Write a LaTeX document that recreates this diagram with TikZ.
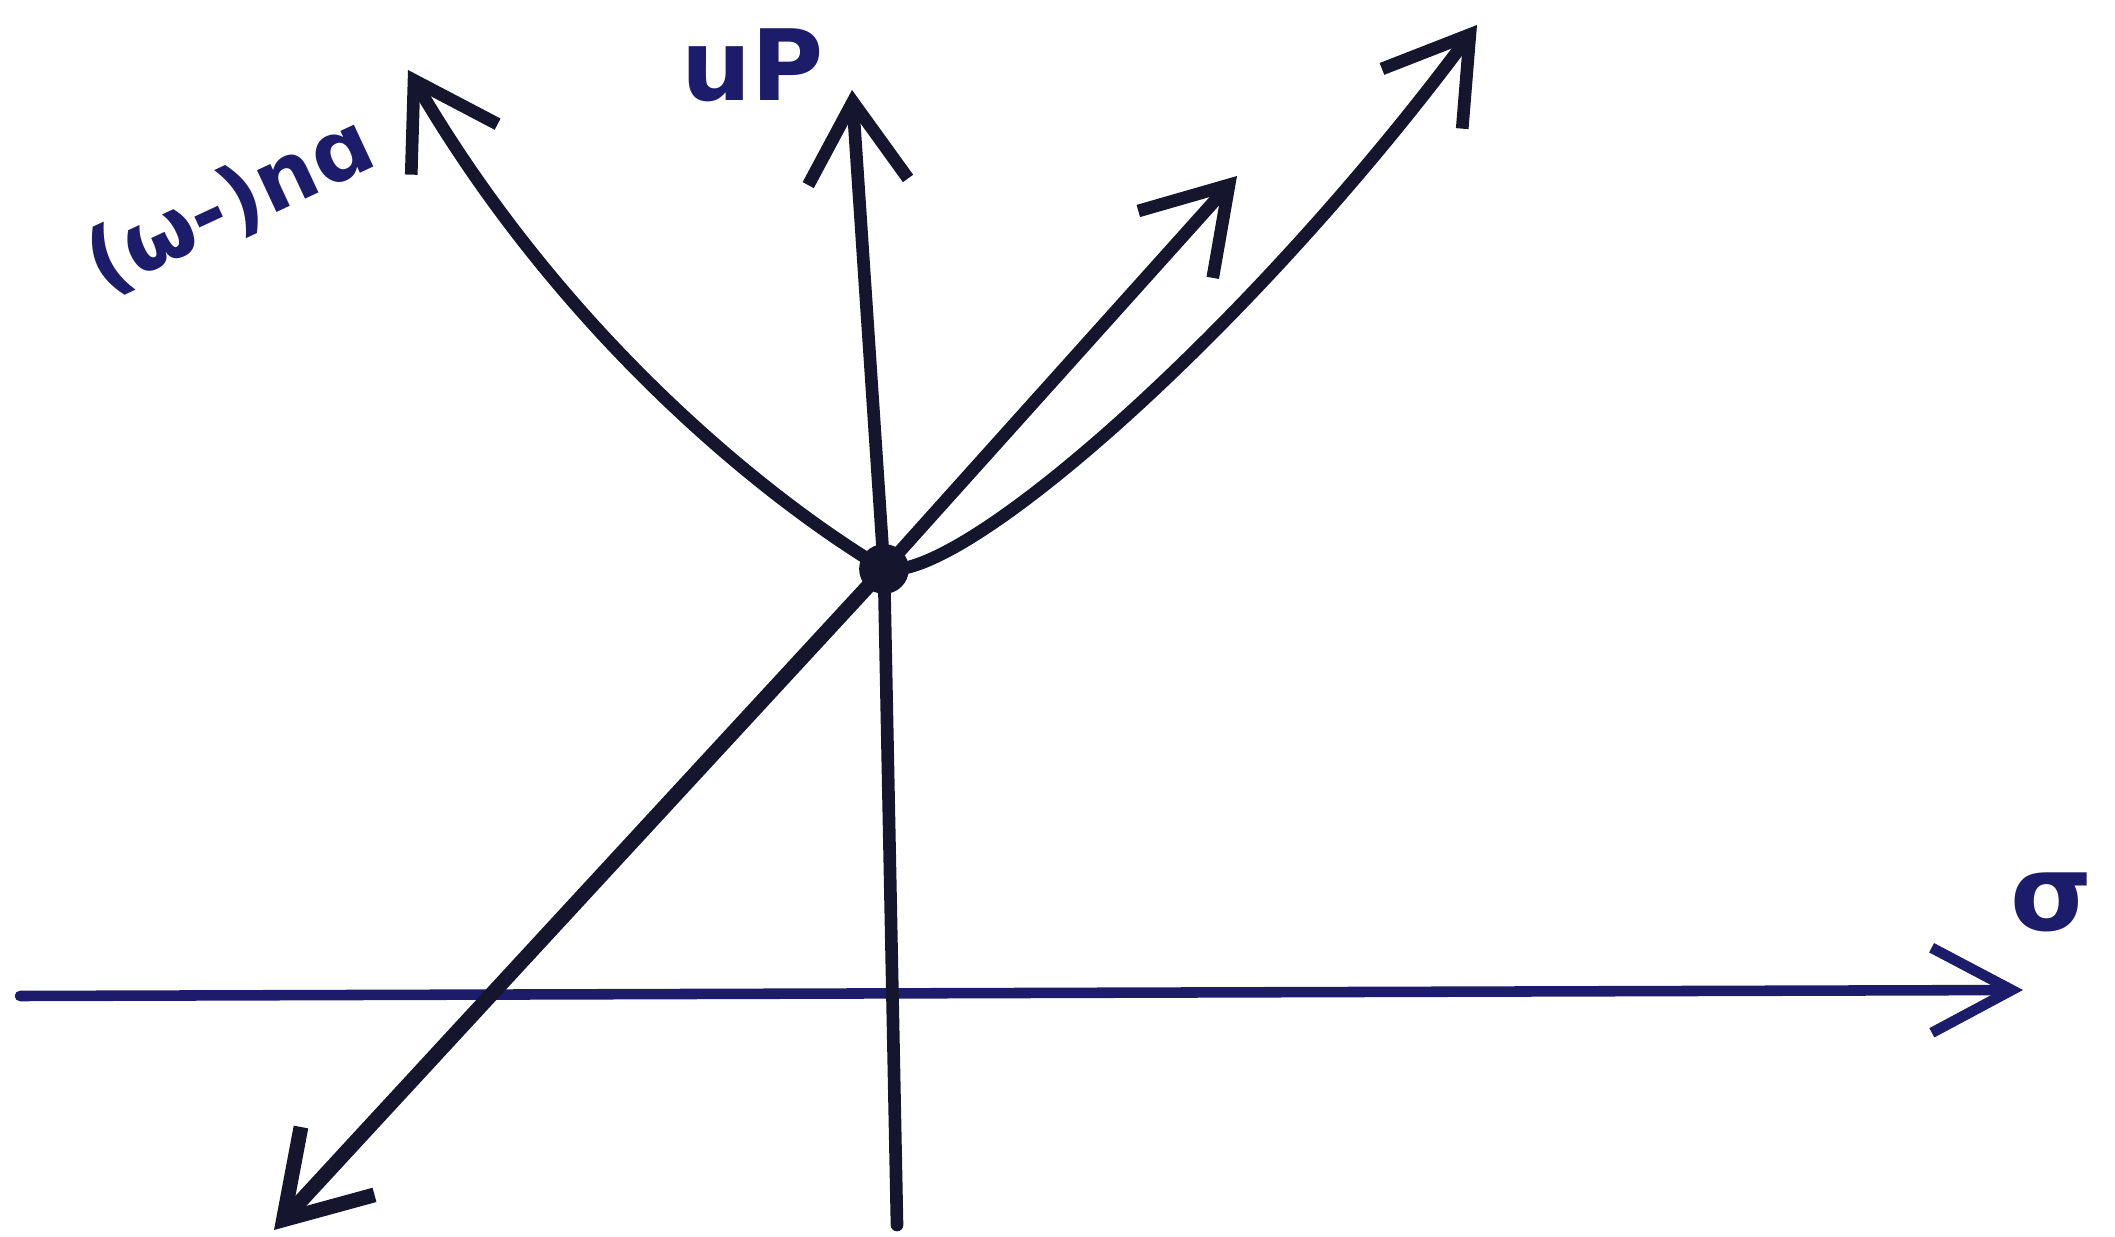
\documentclass[tikz,border=0pt]{standalone}
\usepackage{fontspec}
\newfontfamily\handfont{DejaVu Sans}
\usetikzlibrary{arrows.meta}
\definecolor{inkblack}{HTML}{15152E}
\definecolor{inkblue}{HTML}{1C1C6B}
\tikzset{
  inkline/.style={inkblack, line width=3.6pt, line cap=round, line join=round},
  inkarrow/.style={inkline, -{Straight Barb[length=8mm,width=10mm]}},
  axisline/.style={inkblue, line width=3pt, line cap=round, -{Straight Barb[length=8mm,width=8.5mm]}},
  inkdot/.style={circle, fill=inkblack, inner sep=5pt},
  inklabel/.style={inkblue, font=\handfont\bfseries\fontsize{24}{24}\selectfont, inner sep=0pt}
}
\begin{document}
\begin{tikzpicture}[x=0.01cm, y=-0.01cm]
  \useasboundingbox (0,0) rectangle (2115,1237);
  \coordinate (hstart) at (20,996);
  \coordinate (hend) at (2023,990);
  \coordinate (vbot) at (897,1225);
  \coordinate (vtop) at (852,90);
  \coordinate (dlow) at (274,1230);
  \coordinate (dhigh) at (1237,176);
  \coordinate (ltip) at (408,70);
  \coordinate (rtip) at (1477,25);
  \node[inkdot] (O) at (884,569) {};
  \draw[axisline] (hstart) -- (hend);
  \draw[inkline] (vbot) -- (O.center);
  \draw[inkarrow] (O.center) -- (vtop);
  \draw[inkarrow, line width=4.2pt] (O.center) -- (dlow);
  \draw[inkarrow] (O.center) -- (dhigh);
  \draw[inkarrow] (O.center) .. controls (760,495) and (560,330) .. (ltip);
  \draw[inkarrow] (O.center) .. controls (960,585) and (1250,330) .. (rtip);
  \node[inklabel, rotate=25] (wlabel) at (230,205) {(ω-)nɑ};
  \node[inklabel, font=\handfont\bfseries\fontsize{28}{28}\selectfont] (uplabel) at (753,65) {uP};
  \node[inklabel, font=\handfont\bfseries\fontsize{30}{30}\selectfont] (slabel) at (2052,902) {σ};
\end{tikzpicture}
\end{document}
